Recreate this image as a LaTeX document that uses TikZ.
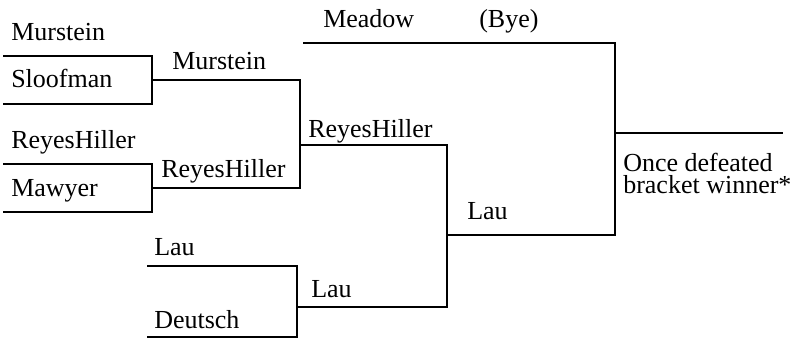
\documentclass[tikz,border=0pt]{standalone}
\usepackage{fontspec}
\newfontfamily\bracketfont{Liberation Serif}
\tikzset{
  bline/.style={line width=1.5pt},
  player/.style={anchor=base west, inner sep=0pt, font=\bracketfont\fontsize{19.5}{16.5}\selectfont},
}

\begin{document}
\begin{tikzpicture}[x=0.75pt,y=-0.75pt]
    \useasboundingbox (0,0) rectangle (796,339);

    % line ends and joints
    \coordinate (murstein) at (3,56);
    \coordinate (sloofman) at (3,104);
    \coordinate (reyes) at (3,164);
    \coordinate (mawyer) at (3,212);
    \coordinate (lau) at (147,266);
    \coordinate (deutsch) at (147,337);
    \coordinate (meadow) at (303,43);
    \coordinate (jmur) at (152,80);
    \coordinate (jrey) at (152,188);
    \coordinate (jlau) at (297,307);
    \coordinate (jsemi) at (300,145);
    \coordinate (jlow) at (447,235);
    \coordinate (jfinal) at (615,133);
    \coordinate (winner) at (783,133);

    % brackets
    \draw[bline] (murstein) -| (jmur) |- (sloofman);
    \draw[bline] (reyes) -| (jrey) |- (mawyer);
    \draw[bline] (lau) -| (jlau) |- (deutsch);
    \draw[bline] (jmur) -| (jsemi) |- (jrey);
    \draw[bline] (jsemi) -| (jlow) |- (jlau);
    \draw[bline] (meadow) -| (jfinal) |- (jlow);
    \draw[bline] (jfinal) -- (winner);

    % names
    \node[player] (n-mur) at (11,40) {Murstein};
    \node[player] (n-slo) at (11,87) {Sloofman};
    \node[player] (n-rey) at (11,148) {ReyesHiller};
    \node[player] (n-maw) at (11,196) {Mawyer};
    \node[player] (n-lau) at (154,255) {Lau};
    \node[player] (n-deu) at (154,328) {Deutsch};
    \node[player] (w-mur) at (172,69) {Murstein};
    \node[player] (w-rey) at (161,177) {ReyesHiller};
    \node[player] (w-lau) at (311,297) {Lau};
    \node[player] (w-semi) at (308,137) {ReyesHiller};
    \node[player] (w-low) at (467,219) {Lau};
    \node[player] (n-mea) at (323,27) {Meadow};
    \node[player] (n-bye) at (479,27) {(Bye)};
    \node[player] (w-final1) at (623,171) {Once defeated};
    \node[player] (w-final2) at (623,193) {bracket winner*};

\end{tikzpicture}
\end{document}
